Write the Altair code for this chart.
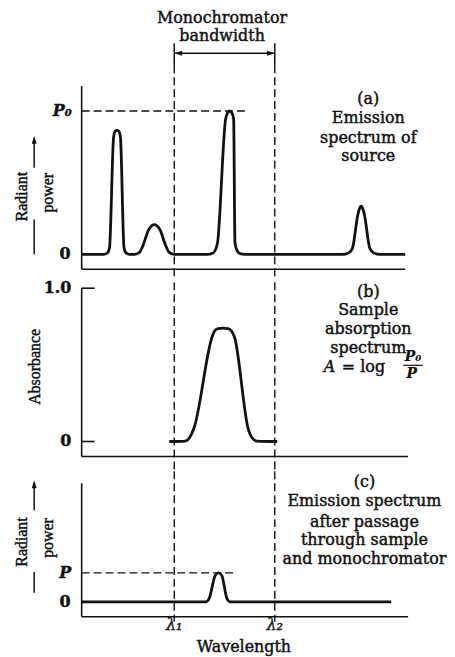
import altair as alt
import pandas as pd

# ---------------- values ----------------
# wavelength axis runs 0..100 (arbitrary units)
LAMBDA_1 = 28.62
LAMBDA_2 = 59.69

# (a) emission spectrum of source (radiant power relative to P0)
source_wl = [0, 6.77, 8.0, 8.62, 9.85, 10.31, 10.92, 11.54, 12.0, 13.08, 13.69, 14.77,
             16.31, 17.85, 19.08, 20.62, 21.69, 22.46, 23.23, 24.31, 25.85, 27.08, 28.62,
             38.77, 40.62, 41.54, 42.0, 44.46, 45.02, 45.75, 46.46, 46.98, 47.38, 47.85, 48.77, 50.46,
             80.62, 82.46, 83.69, 85.38, 86.0, 86.37, 86.77, 87.38, 89.08, 90.31, 92.31, 100]
source_power = [0, 0, 0.010, 0.049, 0.8125, 0.858, 0.865, 0.858, 0.8125, 0.049, 0.010, 0,
                0, 0.014, 0.069, 0.167, 0.201, 0.208, 0.201, 0.167, 0.069, 0.014, 0,
                0, 0.010, 0.042, 0.083, 0.9375, 0.983, 1.0, 0.986, 0.944, 0.083, 0.035, 0.007, 0,
                0, 0.010, 0.042, 0.278, 0.326, 0.337, 0.326, 0.278, 0.042, 0.010, 0, 0]
P0_LEVEL = 1.0

# (b) sample absorption spectrum
sample_wl = [27.08, 32.0, 33.38, 34.77, 40.31, 41.08, 42.15, 43.69, 45.23, 46.31, 47.23,
             51.54, 52.62, 54.15, 60.46]
sample_abs = [0, 0.003, 0.026, 0.091, 0.682, 0.721, 0.737, 0.740, 0.737, 0.721, 0.682,
              0.078, 0.026, 0.003, 0]
abs_ticks = [0.0, 1.0]
abs_tick_labels = ["0", "1.0"]

# (c) emission after sample and monochromator
out_wl = [0, 38.46, 39.38, 41.23, 41.85, 42.31, 42.77, 43.38, 44.92, 45.85, 95.69]
out_power = [0, 0, 0.019, 0.161, 0.177, 0.18, 0.177, 0.161, 0.019, 0, 0]
P_LEVEL = 0.18

# ---------------- layout ----------------
W = 439
XD = [-22.77, 112.31]
A_DOM, A_H = [-0.1597, 1.6944], 267
B_DOM, B_H = [-0.1818, 1.0584], 191
C_DOM, C_H = [-0.323, 0.8137], 183

FONT = "DejaVu Serif"
LFONT = "Liberation Serif"
INK = "#111111"


def X(f="x"):
    return alt.X(f"{f}:Q", scale=alt.Scale(domain=XD, nice=False, zero=False), axis=None)


def Y(dom, f="y"):
    return alt.Y(f"{f}:Q", scale=alt.Scale(domain=dom, nice=False, zero=False), axis=None)


def rules(rows, dom, **kw):
    df = pd.DataFrame(rows, columns=["x", "x2", "y", "y2"])
    kw.setdefault("color", INK)
    return alt.Chart(df).mark_rule(**kw).encode(x=X(), x2="x2:Q", y=Y(dom), y2="y2:Q")


def texts(rows, dom, **kw):
    df = pd.DataFrame(rows, columns=["x", "y", "t"])
    kw.setdefault("color", INK)
    kw.setdefault("font", FONT)
    kw.setdefault("baseline", "middle")
    kw.setdefault("stroke", INK)
    kw.setdefault("strokeWidth", 0.45)
    return alt.Chart(df).mark_text(**kw).encode(x=X(), y=Y(dom), text="t:N")


def heads(rows, dom, shape, size=150):
    df = pd.DataFrame(rows, columns=["x", "y"])
    return alt.Chart(df).mark_point(shape=shape, filled=True, size=size, color=INK,
                                    opacity=1, strokeWidth=0).encode(x=X(), y=Y(dom))


def curve(xs, ys, dom):
    df = pd.DataFrame({"x": xs, "y": ys})
    return alt.Chart(df).mark_line(interpolate="monotone", strokeWidth=2.8, color=INK,
                                   strokeJoin="round").encode(x=X(), y=Y(dom))


UP = "M0,0 L-0.4,1.3 L0.4,1.3 Z"
LEFT = "M0,0 L1.3,-0.4 L1.3,0.4 Z"
RIGHT = "M0,0 L-1.3,-0.4 L-1.3,0.4 Z"
DASH = [8, 4]
TXT = dict(fontSize=16)

# ---- panel (a)
pa = alt.layer(
    rules([[0, 0, -0.104, 1.1736], [0, 100, -0.104, -0.104]], A_DOM, strokeWidth=1.6),
    rules([[LAMBDA_1, LAMBDA_1, 1.319, A_DOM[0]], [LAMBDA_2, LAMBDA_2, 1.319, A_DOM[0]],
           [0, 50.77, P0_LEVEL, P0_LEVEL]], A_DOM, strokeWidth=1.4, strokeDash=DASH),
    rules([[LAMBDA_1, LAMBDA_1, 1.472, 1.319], [LAMBDA_2, LAMBDA_2, 1.472, 1.319],
           [LAMBDA_1, LAMBDA_2, 1.403, 1.403]], A_DOM, strokeWidth=1.5),
    heads([[LAMBDA_1, 1.403]], A_DOM, LEFT),
    heads([[LAMBDA_2, 1.403]], A_DOM, RIGHT),
    rules([[-14.68, -14.68, 0.604, 0.80], [-14.68, -14.68, 0.0, 0.243]], A_DOM, strokeWidth=1.5),
    heads([[-14.68, 0.826]], A_DOM, UP),
    texts([[43.4, 1.646, "Monochromator"], [43.4, 1.521, "bandwidth"],
           [88.6, 1.083, "(a)"], [88.6, 0.951, "Emission"], [88.6, 0.8125, "spectrum of"],
           [88.6, 0.6875, "source"]], A_DOM, align="center", **TXT),
    texts([[-3.1, P0_LEVEL, "P₀"]], A_DOM, align="right", fontSize=16, fontStyle="italic",
          fontWeight="bold"),
    texts([[-3.4, 0, "0"]], A_DOM, align="right", fontSize=16, fontWeight="bold"),
    texts([[-18.55, 0.403, "Radiant"], [-10.46, 0.43, "power"]], A_DOM, align="center",
          angle=270, font=LFONT, fontSize=16),
    curve(source_wl, source_power, A_DOM),
).properties(width=W, height=A_H)

# ---- panel (b)
pb = alt.layer(
    rules([[0, 0, -0.0974, 1.0], [0, 100.9, -0.0974, -0.0974]], B_DOM, strokeWidth=1.6),
    rules([[0, 4.0, v, v] for v in abs_ticks], B_DOM, strokeWidth=1.6),
    rules([[LAMBDA_1, LAMBDA_1, B_DOM[0], B_DOM[1]], [LAMBDA_2, LAMBDA_2, B_DOM[0], B_DOM[1]]],
          B_DOM, strokeWidth=1.4, strokeDash=DASH),
    texts([[-3.2, v, t] for v, t in zip(abs_ticks, abs_tick_labels)], B_DOM, align="right",
          fontSize=16, fontWeight="bold"),
    texts([[-14.5, 0.487, "Absorbance"]], B_DOM, align="center", angle=270, font=LFONT,
          fontSize=16),
    texts([[88.6, 0.977, "(b)"], [88.6, 0.857, "Sample"], [88.6, 0.734, "absorption"],
           [88.6, 0.610, "spectrum"]], B_DOM, align="center", **TXT),
    texts([[76.6, 0.487, "A"]], B_DOM, align="center", fontSize=16, fontStyle="italic"),
    texts([[87.1, 0.487, "= log"]], B_DOM, align="center", fontSize=16),
    texts([[102.4, 0.548, "P₀"], [102.0, 0.44, "P"]], B_DOM, align="center", fontSize=14,
          fontStyle="italic", fontWeight="bold", strokeWidth=0.2),
    rules([[99.4, 105.4, 0.497, 0.497]], B_DOM, strokeWidth=1.2),
    curve(sample_wl, sample_abs, B_DOM),
).properties(width=W, height=B_H)

# ---- panel (c)
pc = alt.layer(
    rules([[0, 0, -0.0932, 0.739], [0, 100.9, -0.0932, -0.0932]], C_DOM, strokeWidth=1.6),
    rules([[LAMBDA_1, LAMBDA_1, C_DOM[1], -0.124], [LAMBDA_2, LAMBDA_2, C_DOM[1], -0.124],
           [0, 47.08, P_LEVEL, P_LEVEL]], C_DOM, strokeWidth=1.4, strokeDash=DASH),
    rules([[-14.68, -14.68, 0.571, 0.738], [-14.68, -14.68, 0.056, 0.186]], C_DOM,
          strokeWidth=1.5),
    heads([[-14.68, 0.758]], C_DOM, UP),
    texts([[-18.55, 0.373, "Radiant"], [-10.46, 0.398, "power"]], C_DOM, align="center",
          angle=270, font=LFONT, fontSize=16),
    texts([[-3.2, P_LEVEL, "P"]], C_DOM, align="right", fontSize=16, fontStyle="italic",
          fontWeight="bold"),
    texts([[-3.4, 0, "0"]], C_DOM, align="right", fontSize=16, fontWeight="bold"),
    texts([[LAMBDA_1, -0.145, "λ₁"], [LAMBDA_2, -0.145, "λ₂"]], C_DOM, align="center",
          fontSize=16, fontStyle="italic"),
    texts([[50.15, -0.285, "Wavelength"]], C_DOM, align="center", fontSize=16),
    texts([[87.4, 0.747, "(c)"], [87.4, 0.629, "Emission spectrum"], [87.4, 0.499, "after passage"],
           [87.4, 0.385, "through sample"], [87.4, 0.267, "and monochromator"]], C_DOM,
          align="center", **TXT),
    curve(out_wl, out_power, C_DOM),
).properties(width=W, height=C_H)

chart = alt.vconcat(pa, pb, pc, spacing=0, padding=0, background="white").configure_view(
    stroke=None
)

chart.save("out.html", embed_options={"renderer": "svg", "actions": False})
